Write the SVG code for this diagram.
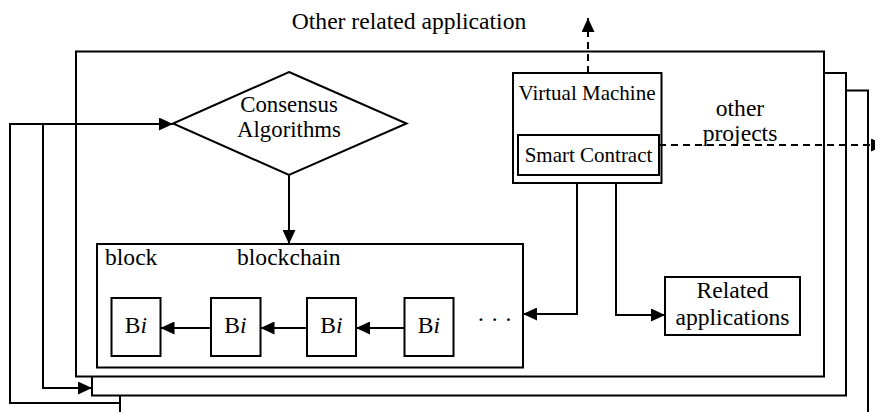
<svg xmlns="http://www.w3.org/2000/svg" width="875" height="412" viewBox="0 0 875 412">
  <style>
    .frame { fill: #fff; stroke: #000; stroke-width: 2; }
    .box { fill: #fff; stroke: #000; stroke-width: 2; }
    .wire { fill: none; stroke: #000; stroke-width: 2; }
    .dash { fill: none; stroke: #000; stroke-width: 2; stroke-dasharray: 7 5; }
    text { font-family: "Liberation Serif", "Times New Roman", serif; fill: #000; }
    .t24 { font-size: 23.6px; }
    .t23 { font-size: 22.8px; }
    .t21 { font-size: 21px; }
    .mid { text-anchor: middle; }
  </style>
  <defs>
    <marker id="head" markerUnits="userSpaceOnUse" markerWidth="15" markerHeight="13" refX="14" refY="6.5" orient="auto">
      <path d="M0,0 L14,6.5 L0,13 Z" fill="#000"/>
    </marker>
  </defs>

  <!-- stacked project frames, back to front -->
  <g id="frame-3"><rect class="frame" x="120" y="90.5" width="748" height="340"/></g>
  <g id="frame-2"><rect class="frame" x="92" y="73" width="754" height="322.5"/></g>
  <g id="frame-1"><rect class="frame" x="76" y="51.5" width="748" height="325"/></g>

  <text class="t24 mid" x="409" y="29">Other related application</text>

  <g id="consensus">
    <polygon class="box" points="289,72 406.5,123.5 289,175 173,123.5"/>
    <text class="t23 mid" x="289" y="112">Consensus</text>
    <text class="t23 mid" x="289" y="137">Algorithms</text>
  </g>

  <g id="virtual-machine">
    <rect class="box" x="513" y="73" width="148.5" height="110"/>
    <text class="t21 mid" x="587" y="100">Virtual Machine</text>
  </g>
  <g id="smart-contract">
    <rect class="box" x="518" y="135" width="141" height="40"/>
    <text class="t21 mid" x="588.5" y="161.5">Smart Contract</text>
  </g>

  <g id="other-projects">
    <text class="t24 mid" x="740" y="116">other</text>
    <text class="t24 mid" x="740" y="141">projects</text>
  </g>

  <g id="blockchain">
    <rect class="box" x="97" y="244" width="426" height="123.5"/>
    <text class="t24" x="105" y="265">block</text>
    <text class="t24" x="237" y="265">blockchain</text>
    <text class="t24" x="477" y="327">· · ·</text>
  </g>
  <g id="block-1">
    <rect class="box" x="111.5" y="298" width="49" height="58"/>
    <text class="t24 mid" x="136" y="333">B<tspan font-style="italic">i</tspan></text>
  </g>
  <g id="block-2">
    <rect class="box" x="211" y="298" width="49.5" height="58"/>
    <text class="t24 mid" x="235.5" y="333">B<tspan font-style="italic">i</tspan></text>
  </g>
  <g id="block-3">
    <rect class="box" x="307" y="298" width="49" height="58"/>
    <text class="t24 mid" x="331.5" y="333">B<tspan font-style="italic">i</tspan></text>
  </g>
  <g id="block-4">
    <rect class="box" x="404.5" y="298" width="49" height="58"/>
    <text class="t24 mid" x="429" y="333">B<tspan font-style="italic">i</tspan></text>
  </g>

  <g id="related-applications">
    <rect class="box" x="665" y="277" width="135" height="58"/>
    <text class="t24 mid" x="732.5" y="298">Related</text>
    <text class="t24 mid" x="732.5" y="325">applications</text>
  </g>

  <g id="connectors">
    <!-- feedback loops from outer frames into consensus and frame 2 -->
    <polyline class="wire" points="120,412 120,403 10,403 10,124 173,124" marker-end="url(#head)"/>
    <polyline class="wire" points="43,124 43,388 92,388" marker-end="url(#head)"/>
    <!-- consensus to blockchain -->
    <line class="wire" x1="289" y1="175" x2="289" y2="244" marker-end="url(#head)"/>
    <!-- chain links -->
    <line class="wire" x1="211" y1="328" x2="160.5" y2="328" marker-end="url(#head)"/>
    <line class="wire" x1="307" y1="328" x2="260.5" y2="328" marker-end="url(#head)"/>
    <line class="wire" x1="404.5" y1="328" x2="356" y2="328" marker-end="url(#head)"/>
    <!-- virtual machine outputs -->
    <polyline class="wire" points="577,183 577,314 523,314" marker-end="url(#head)"/>
    <polyline class="wire" points="616,183 616,315 665,315" marker-end="url(#head)"/>
    <!-- dashed outward links -->
    <line class="dash" x1="588" y1="73" x2="588" y2="18" marker-end="url(#head)"/>
    <line class="dash" x1="659" y1="145" x2="885" y2="145" marker-end="url(#head)"/>
  </g>
</svg>
